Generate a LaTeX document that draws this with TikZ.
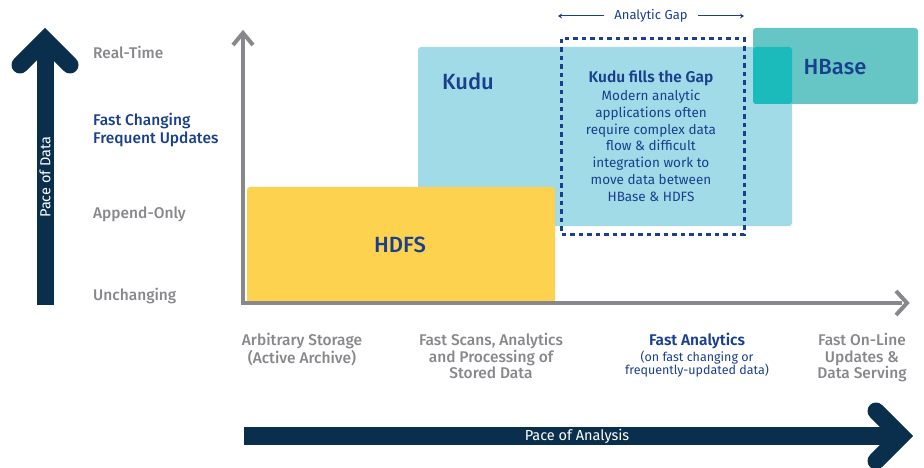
\documentclass[tikz,border=0pt]{standalone}
\usepackage{fontspec}
\setmainfont{Fira Sans Medium}[BoldFont={Fira Sans SemiBold}]
\newfontfamily\regfont{Fira Sans}
\usetikzlibrary{positioning,arrows.meta}
\definecolor{navy}{RGB}{9,47,76}
\definecolor{txtblue}{RGB}{26,63,140}
\definecolor{axisgrey}{RGB}{136,136,140}
\definecolor{hdfsyellow}{RGB}{253,210,78}
\definecolor{kudublue}{RGB}{161,219,232}
\definecolor{hbaseteal}{RGB}{102,198,198}
\definecolor{overlapteal}{RGB}{27,187,187}
\tikzset{
  bigarrow/.style={line width=17pt,navy,line cap=round,line join=miter},
  axisline/.style={line width=4pt,axisgrey},
  ylabel/.style={anchor=west,text=axisgrey,font=\fontsize{15.5}{18}\selectfont,inner sep=0pt},
  xlabel/.style={align=center,text=axisgrey,font=\fontsize{15.5}{16.5}\selectfont,inner sep=0pt},
  boxlabel/.style={text=txtblue,font=\fontsize{22}{26}\selectfont,inner sep=0pt},
}
\begin{document}
\begin{tikzpicture}[x=1pt,y=-1pt]
\useasboundingbox (0,0) rectangle (924,468);
% boxes
\fill[kudublue,rounded corners=3pt] (418,47) rectangle (792,226);
\fill[hdfsyellow,rounded corners=3pt] (247,187) rectangle (555,303);
\fill[hbaseteal,rounded corners=3pt] (753,28) rectangle (918,104);
\fill[overlapteal,rounded corners=3pt] (753,47) rectangle (792,104);
\node[boxlabel] (hdfs) at (400,245) {HDFS};
\node[boxlabel] (kudu) at (468,81) {Kudu};
\node[boxlabel] (hbase) at (835,67) {HBase};
% the gap
\draw[txtblue,line width=3pt,dash pattern=on 4.5pt off 4pt] (561,39) rectangle (744,234);
\node[text=txtblue,font=\regfont\fontsize{13}{14}\selectfont,inner sep=0pt] (gap) at (651,16) {Analytic Gap};
\coordinate (gapl) at (558,16);
\coordinate (gapr) at (744,16);
\draw[txtblue,line width=1pt,-{Stealth[length=4pt,width=5pt]}] ([xshift=-10pt]gap.west) -- (gapl);
\draw[txtblue,line width=1pt,-{Stealth[length=4pt,width=5pt]}] ([xshift=10pt]gap.east) -- (gapr);
\node[text=txtblue,font=\bfseries\fontsize{15.5}{17}\selectfont,inner sep=0pt] (filltitle) at (651,78) {Kudu fills the Gap};
\node[below=4pt of filltitle,align=center,text=txtblue,font=\regfont\fontsize{13.5}{16.8}\selectfont,inner sep=0pt] (filltext)
  {Modern analytic\\applications often\\require complex data\\flow \& difficult\\integration work to\\move data between\\HBase \& HDFS};
% grey axes
\coordinate (origin) at (243,303);
\coordinate (ytip) at (243,36);
\coordinate (xtip) at (902,303);
\draw[axisline] (243,305) -- (ytip);
\draw[axisline] (origin) -- (xtip);
\draw[axisline,line join=miter] (233,45) -- (243,33) -- (253,45);
\draw[axisline,line join=miter] (896,291) -- (907,303) -- (896,315);
% pace of data
\coordinate (pdbot) at (45,305);
\coordinate (pdtop) at (45,40);
\draw[navy,line width=17pt] (pdbot) -- (pdtop);
\draw[bigarrow] (20,65) -- (pdtop) -- (70,65);
\node[rotate=90,text=white,font=\regfont\fontsize{14.5}{16}\selectfont] (pacedata) at (45,177) {Pace of Data};
% pace of analysis
\coordinate (pabeg) at (244,436);
\coordinate (patip) at (901,436);
\draw[navy,line width=18pt] (pabeg) -- (patip);
\draw[bigarrow] (876,411) -- (patip) -- (876,461);
\node[text=white,font=\regfont\fontsize{14.5}{16}\selectfont] (paceanalysis) at (577,436) {Pace of Analysis};
% y labels
\node[ylabel] (realtime) at (93,52) {Real-Time};
\node[ylabel,text=txtblue,align=left] (fastchanging) at (93,130) {Fast Changing\\Frequent Updates};
\node[ylabel] (appendonly) at (93,214) {Append-Only};
\node[ylabel] (unchanging) at (93,296) {Unchanging};
% x labels
\node[xlabel,anchor=north] (arbitrary) at (302,333) {Arbitrary Storage\\(Active Archive)};
\node[xlabel,anchor=north] (fastscans) at (491,333) {Fast Scans, Analytics\\and Processing of\\Stored Data};
\node[xlabel,anchor=north,text=txtblue,font=\bfseries\fontsize{15.5}{16.5}\selectfont] (fastanalytics) at (697,333) {Fast Analytics};
\node[below=1pt of fastanalytics,align=center,text=txtblue,font=\regfont\fontsize{12.5}{13.5}\selectfont,inner sep=0pt] (fastsub) {(on fast changing or\\frequently-updated data)};
\node[xlabel,anchor=north] (online) at (862,333) {Fast On-Line\\Updates \&\\Data Serving};
\end{tikzpicture}
\end{document}
